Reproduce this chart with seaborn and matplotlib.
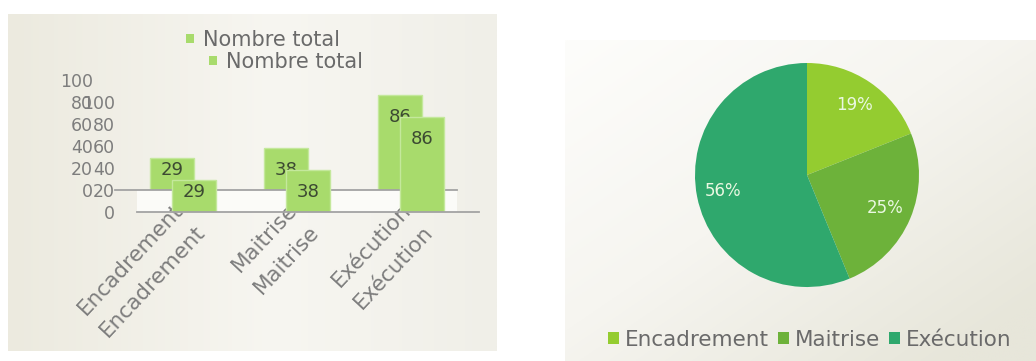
import numpy as np
import pandas as pd
import matplotlib
matplotlib.use("Agg")
import matplotlib.pyplot as plt
from matplotlib.patches import Patch, Rectangle
from matplotlib.colors import LinearSegmentedColormap
import seaborn as sns

# ---------------- data ----------------
categories = ["Encadrement", "Maitrise", "Exécution"]
counts = [29, 38, 86]
series_name = "Nombre total"
y_ticks = [0, 20, 40, 60, 80, 100]
pie_labels = ["Encadrement", "Maitrise", "Exécution"]

# ---------------- style ----------------
bar_color = "#A8DB6C"
bar_edge = "#C4E89C"
pie_colors = ["#94CC30", "#6DB23A", "#2FA86D"]
tick_color = "#7d7d7d"
text_color = "#6a6a6a"
label_color = "#3c4a32"

W, H = 1036, 361
sns.set_theme(style="white")
plt.rcParams['font.family'] = ['DejaVu Sans']

fig = plt.figure(figsize=(W / 100, H / 100), dpi=100)
fig.patch.set_facecolor("white")


def rect(x0, y0, x1, y1):
    """pixel box (top-left origin) -> figure fraction rect"""
    return [x0 / W, 1 - y1 / H, (x1 - x0) / W, (y1 - y0) / H]


# ---------------- backgrounds ----------------
bg1 = fig.add_axes(rect(8, 14, 497, 351), zorder=0)
cm1 = LinearSegmentedColormap.from_list(
    "bg1", [(0, "#ECEADF"), (0.55, "#F7F6F1"), (1, "#F0EFE8")])
g1 = np.tile(np.linspace(0, 1, 256), (16, 1))
bg1.imshow(g1, cmap=cm1, aspect="auto", extent=[0, 1, 0, 1])
bg1.set_axis_off()

bg2 = fig.add_axes(rect(565, 40, 1036, 361), zorder=0)
cm2 = LinearSegmentedColormap.from_list(
    "bg2", [(0, "#FDFDFB"), (0.5, "#F6F5F0"), (1, "#E7E6DA")])
xx, yy = np.meshgrid(np.linspace(0, 1, 200), np.linspace(0, 1, 200))
g2 = np.clip(0.55 * xx + 0.55 * yy, 0, 1)
bg2.imshow(g2, cmap=cm2, aspect="auto", extent=[0, 1, 0, 1])
bg2.set_axis_off()

# whitish band between the two (doubled) plot areas
r = rect(137, 190, 457, 212)
fig.patches.append(Rectangle((r[0], r[1]), r[2], r[3], transform=fig.transFigure,
                             facecolor="#FBFBF8", edgecolor="none", zorder=1))

# ---------------- doubled bar chart ----------------
df = pd.DataFrame({"Catégorie": categories, series_name: counts})
px_per_unit = 110 / 100.0
offsets = [(0, 0), (22, 22)]
legend_pos = [(176, 40), (199, 62)]

for i, (dx, dy) in enumerate(offsets):
    ax = fig.add_axes(rect(115 + dx, 80 + dy, 457 + dx, 190 + dy), zorder=2 + i)
    ax.patch.set_alpha(0)
    sns.barplot(data=df, x="Catégorie", y=series_name, ax=ax, color=bar_color,
                saturation=1, width=0.38, edgecolor=bar_edge, linewidth=1)
    ax.set_xlim(-0.5, 2.5)
    ax.set_ylim(0, 100)
    ax.set_yticks(y_ticks)
    ax.set_xlabel("")
    ax.set_ylabel("")
    for s in ["left", "right", "top"]:
        ax.spines[s].set_visible(False)
    ax.spines["bottom"].set_color("#A3A3A3")
    ax.spines["bottom"].set_linewidth(1.3)
    ax.tick_params(axis="y", length=0, pad=22 * 0.72, labelsize=12.5,
                   labelcolor=tick_color)
    ax.tick_params(axis="x", length=0, pad=10 * 0.72, labelsize=15.5,
                   labelcolor=tick_color)
    plt.setp(ax.get_xticklabels(), rotation=47, ha="right",
             rotation_mode="anchor")
    for p, v in zip(ax.patches, counts):
        h_px = v * px_per_unit
        off = min(22, h_px - 20)
        ax.annotate(str(v), xy=(p.get_x() + p.get_width() / 2, v),
                    xytext=(0, -off * 0.72), textcoords="offset points",
                    ha="center", va="center", fontsize=13, color=label_color)
    lx, ly = legend_pos[i]
    ax.legend(handles=[Patch(facecolor=bar_color, edgecolor="none")],
              labels=[series_name], loc="center left",
              bbox_to_anchor=(lx / W, 1 - ly / H), bbox_transform=fig.transFigure,
              frameon=False, borderpad=0, handlelength=0.35, handleheight=0.35,
              handletextpad=0.45, fontsize=15, labelcolor=text_color)

# ---------------- pie chart ----------------
axp = fig.add_axes(rect(695, 63, 919, 287), zorder=2)
wedges, texts, autotexts = axp.pie(
    counts, colors=pie_colors, startangle=90, counterclock=False,
    autopct="%1.0f%%", pctdistance=0.76,
    wedgeprops=dict(linewidth=0),
    textprops=dict(color="#EAF8E2", fontsize=12))
axp.set_xlim(-1, 1)
axp.set_ylim(-1, 1)
axp.set_aspect("equal")

axp.legend(wedges, pie_labels, loc="center",
           bbox_to_anchor=(810 / W, 1 - 340 / H), bbox_transform=fig.transFigure,
           ncol=3, frameon=False, borderpad=0, handlelength=0.5,
           handleheight=0.5, handletextpad=0.3, columnspacing=0.4,
           fontsize=15.5, labelcolor=text_color)

fig.savefig("out.png", dpi=100)
